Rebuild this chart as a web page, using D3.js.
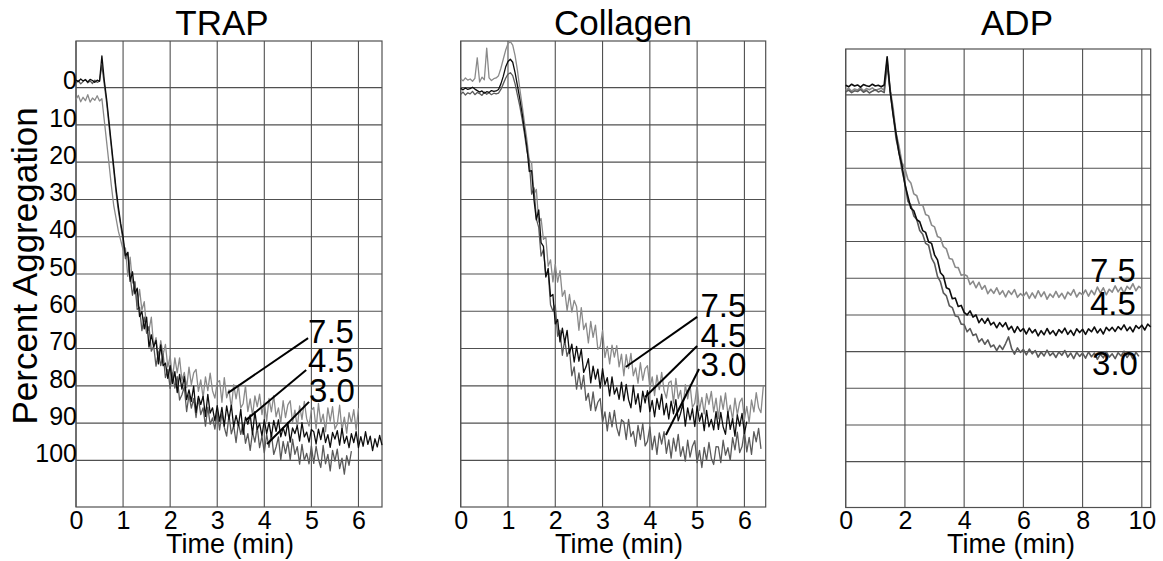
<!DOCTYPE html>
<html>
<head>
<meta charset="utf-8">
<script src="https://cdn.jsdelivr.net/npm/d3@7"></script>
<style>
  body { margin: 0; background: #fff; }
  svg { display: block; font-family: "Liberation Sans", Arial, sans-serif; }
</style>
</head>
<body>
<svg id="chart" width="1163" height="561"></svg>
<script>
// doses (order of drawing: light, medium, black on top)
var doses = ["7.5", "4.5", "3.0"];
var yTicks = [0, 10, 20, 30, 40, 50, 60, 70, 80, 90, 100];
var trapTicks = [0, 1, 2, 3, 4, 5, 6];
var collagenTicks = [0, 1, 2, 3, 4, 5, 6];
var adpTicks = [0, 2, 4, 6, 8, 10];

// sampling interval of the traces, minutes
var trapStep = 0.05, collagenStep = 0.05, adpStep = 0.1;

// percent aggregation
var trap75 = [3.2,2.1,3.8,2.6,3.5,1.9,3.9,2.8,3.4,2.2,3.6,
  3.0,8.7,14.5,20.3,26.2,31.5,35.0,38.5,41.0,43.5,
  43.0,50.6,45.5,52.4,52.0,58.6,54.1,59.7,57.4,64.9,65.1,61.6,69.5,67.1,72.4,67.9,71.6,68.9,75.0,72.0,
  78.0,72.5,76.5,72.5,78.5,76.4,80.5,75.0,79.7,76.5,75.6,81.5,78.4,83.2,77.6,81.3,76.6,81.3,83.3,79.1,
  78.6,84.4,77.8,83.2,81.1,85.9,79.7,83.5,79.8,85.9,84.8,79.9,86.9,83.5,88.0,82.7,85.6,82.2,87.7,84.0,
  89.5,83.4,87.0,82.6,88.3,85.9,89.8,84.0,88.5,85.1,84.0,89.8,86.5,91.2,85.4,89.0,84.2,88.8,90.8,86.5,
  85.8,91.5,84.7,90.0,87.6,92.3,85.9,89.5,85.6,91.6,90.3,85.2,92.0,88.4,92.7,87.2,90.0,86.4,91.8,86.0];
var trap45 = [-2.0,-1.6,-2.3,-1.8,-2.1,-1.5,-2.2,-1.9,-1.4,-2.0,-1.7,
  -8.5,-2,3,9,15,21,27,32,36.5,40,
  45.1,44.2,52.0,49.4,55.3,53.8,61.4,60.1,64.7,61.6,69.6,66.3,69.5,67.8,74.1,69.0,74.6,73.9,78.0,74.6,
  79.4,76.2,81.8,76.9,80.9,77.5,83.7,81.1,84.2,80.1,87.1,82.8,85.0,82.8,88.2,82.3,87.3,85.9,89.4,85.3,
  89.5,85.8,90.8,85.4,89.0,85.2,91.0,87.9,90.7,86.3,93.0,88.4,90.3,87.8,93.0,86.9,91.7,90.1,93.4,89.1,
  92.8,89.8,93.7,89.3,92.2,89.1,93.7,91.2,93.4,89.8,95.1,91.3,92.8,90.7,94.8,89.9,93.7,92.4,95.1,91.7,
  92.3,95.6,91.6,94.4,91.2,95.2,93.1,96.5,92.5,94.3,92.0,95.9,91.4,95.4,93.5,96.6,92.8,95.2,92.3,96.6,
  93.6,96.2,92.3,95.7,93.5,97.4,94.2,96.4,93.3,95.9];
var trap30 = [-1.2,-1.9,-1.0,-1.6,-2.2,-1.3,-1.8,-1.1,-2.0,-1.4,-1.7,
  -6.0,-1.0,4.0,10.0,16.0,22.0,28.0,33.0,37.0,41.0,
  45.9,44.2,50.6,55.7,52.2,59.5,58.9,65.2,61.6,65.9,64.1,70.7,69.3,74.7,70.9,74.6,71.4,77.8,75.5,80.7,
  76.5,80.6,77.5,83.8,82.4,80.3,86.9,82.4,86.0,83.4,88.5,83.3,87.7,85.9,90.8,85.7,90.3,88.6,91.6,86.9,
  91.8,87.4,91.1,93.5,87.8,92.9,90.6,95.2,89.9,93.0,90.0,95.4,92.8,97.3,92.4,95.1,91.0,96.6,93.5,97.9,
  93.0,96.5,92.7,98.4,96.4,93.7,99.8,94.9,98.1,95.0,99.8,94.3,98.4,96.3,101.0,95.7,100.0,98.1,100.9,96.1,
  100.8,96.2,99.7,101.9,96.0,100.9,98.4,102.8,97.3,100.2,97.0,102.2,99.4,103.7,98.7,101.3,97.5];

var coll75 = [-2.4,-1.8,-2.6,-2.0,-2.3,-1.7,-2.5,-8.0,-1.5,-2.8,-2.1,-10.6,-2.6,-1.9,-2.4,-2.6,
  -3.2,-5.2,-7.6,-10.0,-11.8,-12.3,-11.4,-8.6,-4.6,0.3,4.8,9.5,14.0,
  19.5,20.2,28.6,27.3,36.1,35.1,40.7,40.0,47.9,46.2,52.1,47.4,52.2,49.1,56.0,54.4,59.8,55.5,60.2,57.1,
  58.7,65.1,59.0,64.9,63.2,68.5,62.7,67.0,63.7,70.2,69.5,65.1,72.4,69.4,74.1,69.1,72.3,69.2,74.9,71.5,
  77.3,71.6,75.4,71.3,77.3,75.2,79.3,73.8,78.5,75.4,74.6,80.6,77.6,82.6,77.1,81.0,76.4,81.2,83.3,79.2,
  78.7,84.6,78.0,83.4,81.2,86.0,79.7,83.5,79.7,85.8,84.6,79.7,86.6,83.1,87.5,82.1,85.0,81.5,87.0,83.3,
  88.8,82.7,86.3,81.9,87.6,85.2,89.1,83.3,87.8,84.4,83.3,89.0,85.5,89.9,83.8,87.0,81.8,85.9,87.2,80.0];
var coll45 = [0.2,0.6,0.1,0.5,0.3,-0.1,0.4,0.8,1.2,0.9,1.5,1.1,1.3,0.8,1.0,0.9,
  0.5,-1.0,-3.0,-5.5,-7.0,-7.6,-6.8,-4.0,-0.5,3.0,7.0,11.5,16.0,
  22.5,22.3,30.1,35.5,32.8,41.6,42.6,50.8,48.5,56.0,55.5,63.4,62.2,68.2,64.5,68.4,65.1,71.3,68.8,73.6,
  69.4,73.4,70.2,76.4,74.9,72.7,79.2,74.7,78.2,75.5,80.6,75.4,79.7,77.8,82.7,77.6,82.2,80.5,83.6,79.0,
  84.0,79.6,83.7,85.9,79.9,84.9,82.1,87.0,81.4,84.6,81.3,86.9,83.9,88.3,83.4,86.3,82.2,87.8,84.7,88.9,
  84.1,87.5,83.7,89.4,87.4,84.7,90.8,85.9,89.1,86.1,90.9,85.4,89.5,87.3,92.0,86.6,91.0,89.0,91.8,86.9,
  91.7,87.1,91.0,93.0,86.9,91.7,88.8,93.5,87.8,90.8,87.4,92.8,89.6];
var coll30 = [1.8,1.2,2.0,1.4,1.7,1.0,1.9,1.3,1.6,2.1,1.2,1.8,1.4,1.9,1.5,1.7,
  1.5,0.5,-1.0,-2.5,-3.6,-4.0,-3.2,-1.0,2.0,5.0,8.5,12.5,17.0,
  19.7,28.6,26.9,35.2,37.5,45.2,43.4,50.5,49.5,58.3,59.9,58.3,66.7,65.1,71.8,67.6,72.1,70.2,77.3,74.9,
  80.9,76.5,80.9,77.2,83.9,82.0,86.6,81.6,86.7,84.4,83.4,89.8,87.0,92.1,87.1,91.0,86.6,91.2,93.4,89.1,
  89.7,94.4,89.0,93.6,92.2,96.2,90.6,94.4,90.1,96.1,94.9,91.0,97.1,93.5,98.4,92.6,95.6,92.3,98.1,94.5,
  99.4,94.0,97.5,93.0,98.9,96.3,100.2,94.6,99.1,96.2,94.7,100.6,97.3,101.9,96.5,100.0,95.2,99.4,101.1,96.3,
  96.4,100.6,94.6,98.6,96.6,100.0,93.9,97.2,92.4,97.9,96.3,92.0,97.7,93.8,98.4,92.3,95.0,91.4,96.9];

var adp75 = [-1.2,-1.8,-1.0,-1.6,-1.3,-2.0,-1.1,-1.7,-1.4,-1.9,-1.2,-1.5,-1.8,-1.3,
  -9.5,
  -1.6,3.5,10.4,14.0,18.5,20.1,23.0,24.0,27.0,27.5,30.1,30.0,32.6,33.0,35.5,36.0,38.6,39.0,41.4,42.0,
  44.6,44.8,47.0,47.1,49.2,49.0,
  49.4,51.7,50.8,52.6,51.1,53.0,52.0,54.2,53.0,54.1,52.6,54.4,53.4,55.1,53.4,54.4,53.1,55.2,54.2,54.9,
  53.8,55.5,54.0,55.4,53.4,55.0,53.7,55.7,54.3,55.2,53.6,55.2,54.1,55.6,53.8,54.6,53.1,55.1,53.9,54.5,
  53.2,54.9,53.3,54.5,52.4,54.0,52.6,54.5,53.0,53.8,52.1,53.7,52.5,54.1,52.2,53.0,51.5,53.4,52.2,52.8];
var adp45 = [-2.6,-2.2,-2.9,-2.4,-2.7,-2.1,-2.8,-2.5,-2.3,-2.9,-2.4,-2.6,-2.2,-2.7,
  -10.4,
  -1.0,5.3,10.6,15.9,19.2,24.4,27.6,30.9,31.6,34.0,34.6,37.0,37.5,40.1,40.5,43.6,45.0,48.5,49.4,52.6,
  53.0,55.6,55.4,57.7,57.4,59.3,
  60.0,58.9,60.6,60.0,62.1,61.0,62.3,60.9,62.7,62.0,63.5,62.1,63.2,62.1,64.0,63.1,64.8,63.2,64.5,63.7,
  65.2,63.6,64.9,64.0,65.7,64.3,65.4,63.7,65.2,64.3,65.6,64.0,64.9,63.6,65.3,64.2,65.6,63.8,64.8,63.9,
  65.3,63.8,64.6,63.3,64.9,63.8,65.2,63.4,64.3,63.4,64.5,63.2,64.0,62.7,64.3,63.3,64.6,62.9,63.7,62.8,
  64.1,62.5,63.3];
var adp30 = [-0.8,-1.3,-0.6,-1.1,-0.9,-1.5,-0.7,-1.2,-0.5,-1.0,-1.4,-0.8,-1.1,-0.6,
  -8.5,
  -1.1,5.0,11.9,15.6,20.5,24.1,29.0,30.1,33.0,34.0,37.0,38.0,40.5,41.0,44.5,46.0,49.5,51.0,54.0,54.8,
  57.5,58.0,60.3,60.5,62.5,62.6,
  64.6,63.7,65.6,65.2,67.4,66.5,68.0,66.8,68.7,68.2,69.7,68.3,69.4,67.8,66.0,69.1,70.7,69.0,70.2,69.4,
  70.9,69.3,70.6,69.7,71.5,70.1,71.2,69.6,71.1,70.3,71.6,70.1,71.0,69.7,71.5,70.4,71.9,70.2,71.3,70.4,
  71.8,70.1,71.4,70.4,72.1,70.7,71.7,70.0,71.5,70.6,71.9,70.3,71.2,69.9,71.6,70.5,72.0,70.2,71.3];

var traceColor = { "7.5": "#8a8a8a", "4.5": "#0d0d0d", "3.0": "#5a5a5a" };
var drawOrder = ["7.5", "3.0", "4.5"];

var panels = [
  { title: "TRAP", titleX: 222, labelX: 230, left: 76, right: 382, top: 41, bottom: 507,
    tMax: 6.5, ticks: trapTicks, step: trapStep, yLabels: true, traceWidth: 1.3,
    series: { "7.5": trap75, "4.5": trap45, "3.0": trap30 },
    notes: [[4.93, 68.5, 4.93, 67.2, 3.23, 81.9], [4.93, 76.3, 4.89, 75.75, 3.61, 89.2], [4.95, 84.3, 4.95, 84.3, 4.06, 95.6]] },
  { title: "Collagen", titleX: 623, labelX: 619, left: 460.7, right: 765.7, top: 41, bottom: 507,
    tMax: 6.45, ticks: collagenTicks, step: collagenStep, yLabels: false, traceWidth: 1.3,
    series: { "7.5": coll75, "4.5": coll45, "3.0": coll30 },
    notes: [[5.07, 61.5, 5.0, 61.5, 3.49, 74.95], [5.07, 69.6, 5.0, 69.3, 3.9, 83.0], [5.07, 77.4, 5.04, 75.5, 4.34, 93.2]] },
  { title: "ADP", titleX: 1017, labelX: 1011, left: 845.7, right: 1150.7, top: 49, bottom: 507.5,
    tMax: 10.3, ticks: adpTicks, step: adpStep, yLabels: false, traceWidth: 1.6,
    series: { "7.5": adp75, "4.5": adp45, "3.0": adp30 },
    notes: [[8.25, 50.9], [8.25, 60.0], [8.32, 76.4]] }
];

var svg = d3.select("#chart");
var gridColor = "#505050";

function drawPanel(p) {
  var x = d3.scaleLinear().domain([0, p.tMax]).range([p.left, p.right]);
  var y = d3.scaleLinear().domain([-12.5, 112.5]).range([p.top, p.bottom]);
  var g = svg.append("g");

  g.selectAll(".vg").data(p.ticks).enter().append("line")
    .attr("x1", function (d) { return x(d); }).attr("x2", function (d) { return x(d); })
    .attr("y1", p.top).attr("y2", p.bottom)
    .attr("stroke", gridColor).attr("stroke-width", 1.1);
  g.selectAll(".hg").data(yTicks).enter().append("line")
    .attr("x1", p.left).attr("x2", p.right)
    .attr("y1", function (d) { return y(d); }).attr("y2", function (d) { return y(d); })
    .attr("stroke", gridColor).attr("stroke-width", 1.1);
  g.append("rect")
    .attr("x", p.left).attr("y", p.top)
    .attr("width", p.right - p.left).attr("height", p.bottom - p.top)
    .attr("fill", "none").attr("stroke", gridColor).attr("stroke-width", 1.2);

  var line = d3.line()
    .x(function (d) { return x(d[0]); })
    .y(function (d) { return y(d[1]); });
  drawOrder.forEach(function (dose) {
    var pts = p.series[dose].map(function (v, i) { return [i * p.step, v]; });
    g.append("path").datum(pts)
      .attr("d", line)
      .attr("fill", "none")
      .attr("stroke", traceColor[dose])
      .attr("stroke-width", p.traceWidth)
      .attr("stroke-linejoin", "round");
  });

  var xa = g.append("g")
    .attr("transform", "translate(0," + p.bottom + ")")
    .call(d3.axisBottom(x).tickValues(p.ticks).tickSize(0).tickPadding(4).tickFormat(d3.format("d")));
  xa.select(".domain").remove();
  xa.selectAll("text").attr("font-size", 25).attr("fill", "#000")
    .attr("font-family", "Liberation Sans, Arial, sans-serif");

  if (p.yLabels) {
    var ya = g.append("g")
      .attr("transform", "translate(" + (p.left + 1) + ",0)")
      .call(d3.axisLeft(y).tickValues(yTicks).tickSize(0).tickPadding(0));
    ya.select(".domain").remove();
    ya.selectAll("text").attr("font-size", 25).attr("fill", "#000").attr("dy", "0.05em")
      .attr("font-family", "Liberation Sans, Arial, sans-serif");
  }

  g.append("text").attr("x", p.titleX).attr("y", 35)
    .attr("text-anchor", "middle").attr("font-size", 35).text(p.title);
  g.append("text").attr("x", p.labelX).attr("y", 553)
    .attr("text-anchor", "middle").attr("font-size", 27).text("Time (min)");

  p.notes.forEach(function (n, i) {
    g.append("text").attr("x", x(n[0])).attr("y", y(n[1]))
      .attr("font-size", 33).text(doses[i]);
    if (n.length > 2) {
      g.append("line")
        .attr("x1", x(n[2])).attr("y1", y(n[3]))
        .attr("x2", x(n[4])).attr("y2", y(n[5]))
        .attr("stroke", "#000").attr("stroke-width", 2);
    }
  });
}

panels.forEach(drawPanel);

svg.append("text")
  .attr("transform", "translate(37,266) rotate(-90)")
  .attr("text-anchor", "middle").attr("font-size", 35)
  .text("Percent Aggregation");
</script>
</body>
</html>
